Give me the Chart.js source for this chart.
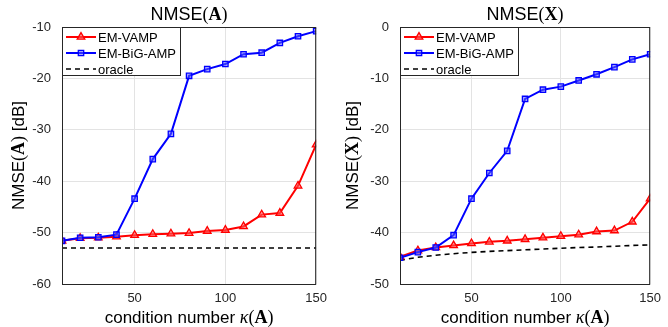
<!DOCTYPE html>
<html>
<head>
<meta charset="utf-8">
<script src="https://cdn.jsdelivr.net/npm/chart.js@4"></script>
<style>
  html, body { margin: 0; padding: 0; background: #fff; }
  .panel { position: absolute; top: 0; width: 334px; height: 327px; }
</style>
</head>
<body>
<div class="panel" style="left:0"><canvas id="chartA" width="334" height="327"></canvas></div>
<div class="panel" style="left:334px"><canvas id="chartX" width="334" height="327"></canvas></div>
<script>
// condition number kappa(A)
const kappa = [10, 20, 30, 40, 50, 60, 70, 80, 90, 100, 110, 120, 130, 140, 150];

// NMSE(A) in dB
const vampA   = [-51.6, -51.1, -51.0, -50.8, -50.5, -50.3, -50.2, -50.1, -49.7, -49.5, -48.8, -46.5, -46.2, -40.9, -32.9];
const bigampA = [-51.6, -51.0, -50.9, -50.4, -43.4, -35.7, -30.8, -19.5, -18.2, -17.2, -15.3, -15.0, -13.1, -11.8, -10.8];
const oracleA = [-53.0, -53.0, -53.0, -53.0, -53.0, -53.0, -53.0, -53.0, -53.0, -53.0, -53.0, -53.0, -53.0, -53.0, -53.0];

// NMSE(X) in dB
const vampX   = [-44.7, -43.5, -42.9, -42.5, -42.1, -41.8, -41.6, -41.3, -41.0, -40.7, -40.4, -39.8, -39.6, -37.9, -33.4];
const bigampX = [-44.9, -43.8, -42.9, -40.5, -33.4, -28.4, -24.1, -14.0, -12.2, -11.6, -10.4, -9.2, -7.8, -6.3, -5.3];
const oracleX = [-45.4, -44.8, -44.4, -44.1, -43.85, -43.65, -43.5, -43.35, -43.2, -43.05, -42.9, -42.8, -42.65, -42.5, -42.4];

const xTicks  = [50, 100, 150];
const yTicksA = [-60, -50, -40, -30, -20, -10];
const yTicksX = [-50, -40, -30, -20, -10, 0];
const seriesNames = ['EM-VAMP', 'EM-BiG-AMP', 'oracle'];

const SANS = '"Liberation Sans", Arial, sans-serif';
const SERIF = '"Liberation Serif", "Times New Roman", serif';

const pts = (ys) => kappa.map((k, i) => ({ x: k, y: ys[i] }));

// draw a run of text made of pieces with different fonts, centered on (x, y)
function drawMixed(ctx, parts, x, y, angle) {
  ctx.save();
  ctx.translate(x, y);
  if (angle) ctx.rotate(angle);
  let total = 0;
  parts.forEach(p => { ctx.font = p[1]; total += ctx.measureText(p[0]).width; });
  let cx = -total / 2;
  ctx.fillStyle = '#000';
  ctx.textBaseline = 'middle';
  ctx.textAlign = 'left';
  parts.forEach(p => {
    ctx.font = p[1];
    ctx.fillText(p[0], cx, 0);
    cx += ctx.measureText(p[0]).width;
  });
  ctx.restore();
}

const decorPlugin = {
  id: 'decor',
  afterDatasetsDraw(chart, args, opts) {
    const ctx = chart.ctx;
    const a = chart.chartArea;
    // box round the axes
    ctx.save();
    ctx.strokeStyle = '#262626';
    ctx.lineWidth = 1;
    ctx.strokeRect(a.left + 0.5, a.top + 0.5, a.right - a.left - 1, a.bottom - a.top);
    ctx.restore();

    // legend
    const lx = a.left, ly = a.top, lw = 118, lh = 48;
    ctx.save();
    ctx.fillStyle = '#fff';
    ctx.fillRect(lx, ly, lw, lh);
    ctx.strokeStyle = '#262626';
    ctx.lineWidth = 1;
    ctx.strokeRect(lx + 0.5, ly + 0.5, lw, lh);
    const order = [1, 0, 2];
    order.forEach((di, row) => {
      const ds = chart.data.datasets[di];
      const yy = ly + 10 + row * 16;
      ctx.save();
      ctx.strokeStyle = ds.borderColor;
      ctx.lineWidth = ds.borderWidth;
      ctx.setLineDash(ds.borderDash || []);
      ctx.beginPath();
      ctx.moveTo(lx + 4, yy);
      ctx.lineTo(lx + 34, yy);
      ctx.stroke();
      ctx.restore();
      if (ds.pointRadius > 0) {
        ctx.save();
        ctx.fillStyle = ds.pointBackgroundColor;
        ctx.strokeStyle = ds.borderColor;
        ctx.lineWidth = ds.pointBorderWidth;
        Chart.helpers.drawPoint(ctx, {
          pointStyle: ds.pointStyle, radius: ds.pointRadius, borderWidth: ds.pointBorderWidth
        }, lx + 19, yy);
        ctx.restore();
      }
      ctx.fillStyle = '#000';
      ctx.font = '13px ' + SANS;
      ctx.textBaseline = 'middle';
      ctx.fillText(ds.label, lx + 36, yy + 1);
    });
    ctx.restore();

    // title and axis labels
    const mid = (a.left + a.right) / 2;
    const sym = opts.sym;
    drawMixed(ctx, [['NMSE', '18px ' + SANS], ['(', '18px ' + SERIF], [sym, 'bold 18px ' + SERIF], [')', '18px ' + SERIF]], mid, 15);
    drawMixed(ctx, [['condition number ', '17px ' + SANS], ['\u03BA', 'italic 18px ' + SERIF], ['(', '18px ' + SERIF], ['A', 'bold 18px ' + SERIF], [')', '18px ' + SERIF]], mid, 318);
    drawMixed(ctx, [['NMSE', '17px ' + SANS], ['(', '18px ' + SERIF], [sym, 'bold 18px ' + SERIF], [')', '18px ' + SERIF], [' [dB]', '17px ' + SANS]], 19, (a.top + a.bottom) / 2, -Math.PI / 2);
  }
};

function makeChart(id, vamp, bigamp, oracle, yTicks, sym, yWidth, padRight) {
  const ctx = document.getElementById(id).getContext('2d');
  return new Chart(ctx, {
    type: 'line',
    data: {
      datasets: [
        {
          label: seriesNames[1], data: pts(bigamp),
          borderColor: '#0000ff', borderWidth: 2,
          pointStyle: 'rect', pointRadius: 3.8, pointBorderWidth: 1.3,
          pointBackgroundColor: 'rgba(90,90,255,0.55)', pointBorderColor: '#0000ff'
        },
        {
          label: seriesNames[0], data: pts(vamp),
          borderColor: '#ff0000', borderWidth: 2,
          pointStyle: 'triangle', pointRadius: 4.4, pointBorderWidth: 1.3,
          pointBackgroundColor: 'rgba(255,90,90,0.6)', pointBorderColor: '#ff0000'
        },
        {
          label: seriesNames[2], data: pts(oracle),
          borderColor: '#000000', borderWidth: 1.6, borderDash: [5, 4],
          pointRadius: 0
        }
      ]
    },
    options: {
      responsive: false,
      animation: false,
      layout: { padding: { top: 27, right: padRight, bottom: 0, left: 0 } },
      plugins: {
        legend: { display: false },
        tooltip: { enabled: false },
        title: { display: false },
        decor: { sym: sym }
      },
      scales: {
        x: {
          type: 'linear', min: 10, max: 150,
          afterBuildTicks: (s) => { s.ticks = xTicks.map(v => ({ value: v })); },
          afterFit: (s) => { s.height = 43; },
          grid: { color: '#e3e3e3', drawTicks: false },
          border: { display: false },
          ticks: { color: '#262626', font: { family: SANS, size: 13 }, padding: 7, maxRotation: 0 }
        },
        y: {
          type: 'linear', min: yTicks[0], max: yTicks[yTicks.length - 1],
          afterBuildTicks: (s) => { s.ticks = yTicks.map(v => ({ value: v })); },
          afterFit: (s) => { s.width = yWidth; },
          grid: { color: '#e3e3e3', drawTicks: false },
          border: { display: false },
          ticks: { color: '#262626', font: { family: SANS, size: 13 }, padding: 11 }
        }
      }
    },
    plugins: [decorPlugin]
  });
}

makeChart('chartA', vampA, bigampA, oracleA, yTicksA, 'A', 62, 15);
makeChart('chartX', vampX, bigampX, oracleX, yTicksX, 'X', 66, 11);
</script>
</body>
</html>
